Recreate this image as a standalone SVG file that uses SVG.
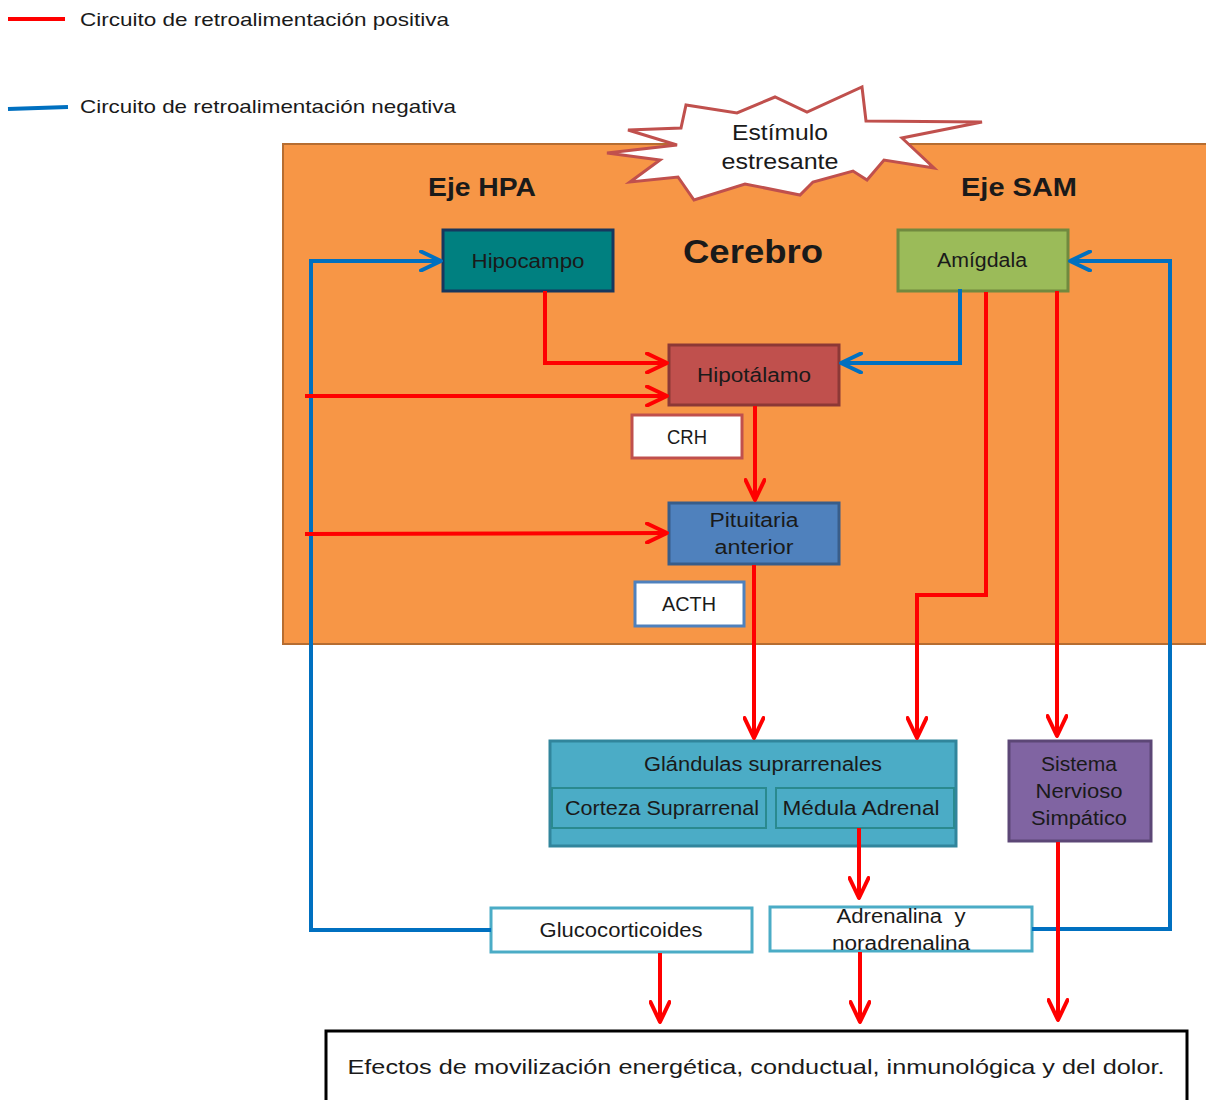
<svg xmlns="http://www.w3.org/2000/svg" width="1206" height="1100" viewBox="0 0 1206 1100">
<style>
text{font-family:"Liberation Sans",Arial,sans-serif;fill:#1a1a1a;text-anchor:middle}
.t{font-size:20px}
.b{font-weight:bold}
.r{fill:none;stroke:#FF0000;stroke-width:4;stroke-linejoin:miter}
.bl{fill:none;stroke:#0070C0;stroke-width:4;stroke-linejoin:miter}
</style>
<defs>
<marker id="ar" viewBox="0 0 24 22" refX="22" refY="11" markerWidth="24" markerHeight="22" markerUnits="userSpaceOnUse" orient="auto"><path d="M2,1.5 L22,11 L2,20.5" fill="none" stroke="#FF0000" stroke-width="4" stroke-linecap="round" stroke-linejoin="round"/></marker>
<marker id="ab" viewBox="0 0 24 22" refX="22" refY="11" markerWidth="24" markerHeight="22" markerUnits="userSpaceOnUse" orient="auto"><path d="M2,1.5 L22,11 L2,20.5" fill="none" stroke="#0070C0" stroke-width="4" stroke-linecap="round" stroke-linejoin="round"/></marker>
</defs>
<rect width="1206" height="1100" fill="#fff"/>
<g id="legend">
<line x1="8" y1="19" x2="65" y2="19" stroke="#FF0000" stroke-width="4"/>
<text x="80" y="26" font-size="19" style="text-anchor:start" textLength="369" lengthAdjust="spacingAndGlyphs">Circuito de retroalimentación positiva</text>
<line x1="8" y1="109" x2="68" y2="107" stroke="#0070C0" stroke-width="4"/>
<text x="80" y="113" font-size="19" style="text-anchor:start" textLength="376" lengthAdjust="spacingAndGlyphs">Circuito de retroalimentación negativa</text>
</g>
<g id="cerebro">
<rect x="283" y="144" width="930" height="500" fill="#F79646" stroke="#B66D31" stroke-width="2"/>
<text x="482" y="196" class="b" font-size="25" textLength="108" lengthAdjust="spacingAndGlyphs">Eje HPA</text>
<text x="1019" y="196" class="b" font-size="25" textLength="116" lengthAdjust="spacingAndGlyphs">Eje SAM</text>
<text x="753" y="263" class="b" font-size="34" textLength="140" lengthAdjust="spacingAndGlyphs">Cerebro</text>
</g>
<g id="estimulo">
<polygon points="628,130 681,128 686,105 737,113 775,97 807,112 862,87 866,121 982,122 902,138 934,168 884,160 867,180 853,171 813,182 800,195 745,184 694,200 678,177 630,182 660,160 607,153 677,145" fill="#fff" stroke="#C0504D" stroke-width="3" stroke-linejoin="miter"/>
<text x="780" y="140" font-size="22" textLength="96" lengthAdjust="spacingAndGlyphs">Estímulo</text>
<text x="780" y="169" font-size="22" textLength="117" lengthAdjust="spacingAndGlyphs">estresante</text>
</g>
<g id="hipocampo">
<rect x="443" y="230" width="170" height="61" fill="#008080" stroke="#17375E" stroke-width="3"/>
<text x="528" y="268" class="t" textLength="113" lengthAdjust="spacingAndGlyphs">Hipocampo</text>
</g>
<g id="amigdala">
<rect x="898" y="230" width="170" height="61" fill="#9BBB59" stroke="#71893F" stroke-width="3"/>
<text x="982" y="267" class="t" textLength="90" lengthAdjust="spacingAndGlyphs">Amígdala</text>
</g>
<g id="hipotalamo">
<rect x="669" y="345" width="170" height="60" fill="#C0504D" stroke="#8C3836" stroke-width="3"/>
<text x="754" y="382" class="t" textLength="114" lengthAdjust="spacingAndGlyphs">Hipotálamo</text>
</g>
<g id="crh">
<rect x="632" y="415" width="110" height="43" fill="#fff" stroke="#C0504D" stroke-width="3"/>
<text x="687" y="444" class="t" textLength="40" lengthAdjust="spacingAndGlyphs">CRH</text>
</g>
<g id="pituitaria">
<rect x="669" y="503" width="170" height="61" fill="#4F81BD" stroke="#385D8A" stroke-width="3"/>
<text x="754" y="527" class="t" textLength="89" lengthAdjust="spacingAndGlyphs">Pituitaria</text>
<text x="754" y="554" class="t" textLength="79" lengthAdjust="spacingAndGlyphs">anterior</text>
</g>
<g id="acth">
<rect x="635" y="582" width="109" height="44" fill="#fff" stroke="#4F81BD" stroke-width="3"/>
<text x="689" y="611" class="t" textLength="54" lengthAdjust="spacingAndGlyphs">ACTH</text>
</g>
<g id="glandulas">
<rect x="550" y="741" width="406" height="105" fill="#4BACC6" stroke="#31859C" stroke-width="3"/>
<rect x="552" y="788" width="214" height="40" fill="#4BACC6" stroke="#2A8A8F" stroke-width="2"/>
<rect x="776" y="788" width="178" height="40" fill="#4BACC6" stroke="#2A8A8F" stroke-width="2"/>
<text x="763" y="771" class="t" textLength="238" lengthAdjust="spacingAndGlyphs">Glándulas suprarrenales</text>
<text x="662" y="815" class="t" textLength="194" lengthAdjust="spacingAndGlyphs">Corteza Suprarrenal</text>
<text x="861" y="815" class="t" textLength="157" lengthAdjust="spacingAndGlyphs">Médula Adrenal</text>
</g>
<g id="simpatico">
<rect x="1009" y="741" width="142" height="100" fill="#8064A2" stroke="#5C4776" stroke-width="3"/>
<text x="1079" y="771" class="t" textLength="76" lengthAdjust="spacingAndGlyphs">Sistema</text>
<text x="1079" y="798" class="t" textLength="87" lengthAdjust="spacingAndGlyphs">Nervioso</text>
<text x="1079" y="825" class="t" textLength="96" lengthAdjust="spacingAndGlyphs">Simpático</text>
</g>
<g id="glucocorticoides">
<rect x="491" y="908" width="261" height="44" fill="#fff" stroke="#4BACC6" stroke-width="3"/>
<text x="621" y="937" class="t" textLength="163" lengthAdjust="spacingAndGlyphs">Glucocorticoides</text>
</g>
<g id="adrenalina">
<rect x="770" y="907" width="262" height="44" fill="#fff" stroke="#4BACC6" stroke-width="3"/>
<text x="901" y="923" class="t" textLength="129" lengthAdjust="spacingAndGlyphs" xml:space="preserve">Adrenalina  y</text>
<text x="901" y="950" class="t" textLength="138" lengthAdjust="spacingAndGlyphs">noradrenalina</text>
</g>
<g id="efectos">
<rect x="326" y="1031" width="861" height="80" fill="#fff" stroke="#000" stroke-width="3"/>
<text x="756" y="1074" font-size="21" textLength="817" lengthAdjust="spacingAndGlyphs">Efectos de movilización energética, conductual, inmunológica y del dolor.</text>
</g>
<g id="connectors">
<polyline class="bl" points="491,930 311,930 311,261 441,261" marker-end="url(#ab)"/>
<polyline class="bl" points="1032,929 1170,929 1170,261 1070,261" marker-end="url(#ab)"/>
<polyline class="bl" points="960,289 960,363 841,363" marker-end="url(#ab)"/>
<polyline class="r" points="545,291 545,363 667,363" marker-end="url(#ar)"/>
<polyline class="r" points="305,396 667,396" marker-end="url(#ar)"/>
<polyline class="r" points="305,534 667,533" marker-end="url(#ar)"/>
<polyline class="r" points="755,406 755,500" marker-end="url(#ar)"/>
<polyline class="r" points="754,565 754,738" marker-end="url(#ar)"/>
<polyline class="r" points="986,292 986,595 917,595 917,738" marker-end="url(#ar)"/>
<polyline class="r" points="1057,291 1057,736" marker-end="url(#ar)"/>
<polyline class="r" points="859,828 859,898" marker-end="url(#ar)"/>
<polyline class="r" points="660,953 660,1022" marker-end="url(#ar)"/>
<polyline class="r" points="860,952 860,1022" marker-end="url(#ar)"/>
<polyline class="r" points="1058,842 1058,1020" marker-end="url(#ar)"/>
</g>
</svg>
